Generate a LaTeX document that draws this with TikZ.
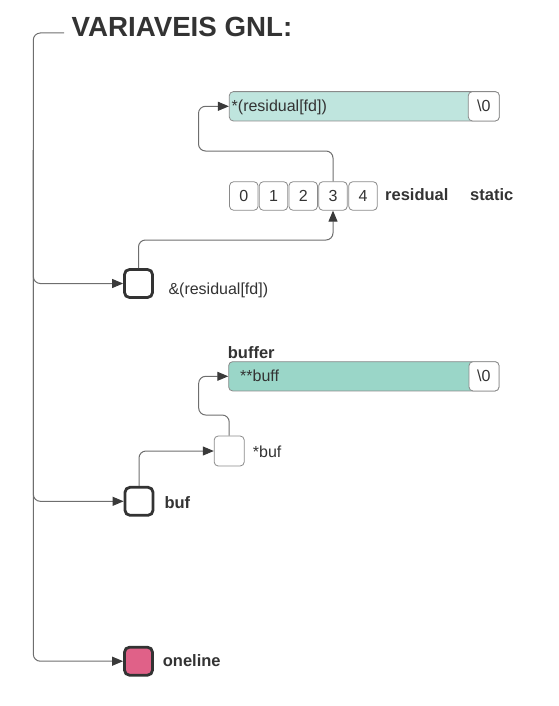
\documentclass[tikz,border=0pt]{standalone}
\usepackage{fontspec}
\setmainfont{Liberation Sans}
\usetikzlibrary{arrows.meta}
\definecolor{txt}{HTML}{333333}
\definecolor{ln}{HTML}{6E6E6E}
\definecolor{tip}{HTML}{3A3A3A}
\definecolor{tealA}{HTML}{BFE5DE}
\definecolor{tealB}{HTML}{9AD6C8}
\definecolor{pinkA}{HTML}{E06188}
\definecolor{bord}{HTML}{333333}
\definecolor{cellb}{HTML}{8A8A8A}
\tikzset{
  lbl/.style={anchor=base west, inner sep=0pt, text=txt, font=\fontsize{16}{18}\selectfont},
  blbl/.style={lbl, font=\fontsize{16.5}{18}\selectfont\bfseries},
  ptrbox/.style={draw=bord, line width=2.8pt, rounded corners=5pt, minimum width=28pt, minimum height=28pt, inner sep=0pt},
  thinbox/.style={draw=cellb, line width=0.8pt, rounded corners=4pt, fill=white, inner sep=0pt},
  cellbox/.style={thinbox, minimum width=28.5pt, minimum height=28.5pt, text=txt, font=\fontsize{16}{18}\selectfont},
  conn/.style={draw=ln, line width=1pt, rounded corners=7pt},
  arr/.style={conn, -{Triangle[length=11pt,width=9pt,color=tip]}},
}
\begin{document}
\begin{tikzpicture}[x=1pt,y=-1pt]
\useasboundingbox (0,0) rectangle (558,706);
% title
\node[anchor=base west, inner sep=0pt, text=txt, font=\fontsize{27.7}{30}\selectfont\bfseries] (title) at (71.5,36.7) {VARIAVEIS GNL:};
\coordinate (tstart) at (64,33);
% pointer boxes
\node[ptrbox] (rp) at (138.5,283.5) {};
\node[ptrbox] (bufb) at (139,501.3) {};
\node[ptrbox, fill=pinkA] (ol) at (138.5,661.2) {};
\node[lbl] (rplbl) at (168.3,294.5) {\&(residual[fd])};
\node[blbl] (buflbl) at (164.3,508) {buf};
\node[blbl] (ollbl) at (162.7,666.5) {oneline};
% array
\foreach \i/\x in {0/243.8,1/273.5,2/303.2,3/333,4/363}{
  \node[cellbox] (c\i) at (\x,196) {\i};
}
\node[blbl] (reslbl) at (385,200.5) {residual};
\node[blbl] (statlbl) at (470,200.5) {static};
% teal box 1
\node[draw=cellb, line width=0.8pt, rounded corners=4pt, fill=tealA, minimum width=270pt, minimum height=29.3pt, inner sep=0pt] (tb1) at (364.3,106.3) {};
\node[thinbox, minimum width=31pt, minimum height=29.3pt] (z1) at (483.8,106.3) {};
\node[lbl] (z1t) at (477,111.5) {\textbackslash 0};
\node[lbl] (tb1t) at (231.5,111.5) {*(residual[fd])};
% teal box 2
\node[blbl] (buflabel) at (227.7,358) {buffer};
\node[draw=cellb, line width=0.8pt, rounded corners=4pt, fill=tealB, minimum width=270.3pt, minimum height=29.3pt, inner sep=0pt] (tb2) at (363.8,376.3) {};
\node[thinbox, minimum width=30pt, minimum height=29.3pt] (z2) at (484,376.3) {};
\node[lbl] (z2t) at (477,381.5) {\textbackslash 0};
\node[lbl] (tb2t) at (240,381.5) {**buff};
% *buf box
\node[thinbox, minimum width=30pt, minimum height=30pt] (sb) at (229.2,451) {};
\node[lbl] (sblbl) at (252.7,457) {*buf};
% trunk connectors
\draw[conn] (tstart) -- (33.3,33) -- (33.3,200);
\draw[arr] (33.3,150) |- (rp.west);
\draw[arr] (33.3,150) |- (bufb.west);
\draw[arr] (33.3,150) |- (ol.west);
% residual pointer to array cell 3
\draw[arr] (rp.north) -- (rp.north |- 0,240) -- (c3.south |- 0,240) -- (c3.south);
% cell 3 to teal box 1
\draw[arr] (c3.north) -- (c3.north |- 0,151) -- (198.5,151) -- (198.5,106.3) -- (tb1.west);
% buf to *buf
\draw[arr] (bufb.north) -- (bufb.north |- sb.west) -- (sb.west);
% *buf to teal box 2
\draw[arr] (sb.north) -- (sb.north |- 0,415) -- (198.7,415) -- (198.7,376.3) -- (tb2.west);
\end{tikzpicture}
\end{document}
